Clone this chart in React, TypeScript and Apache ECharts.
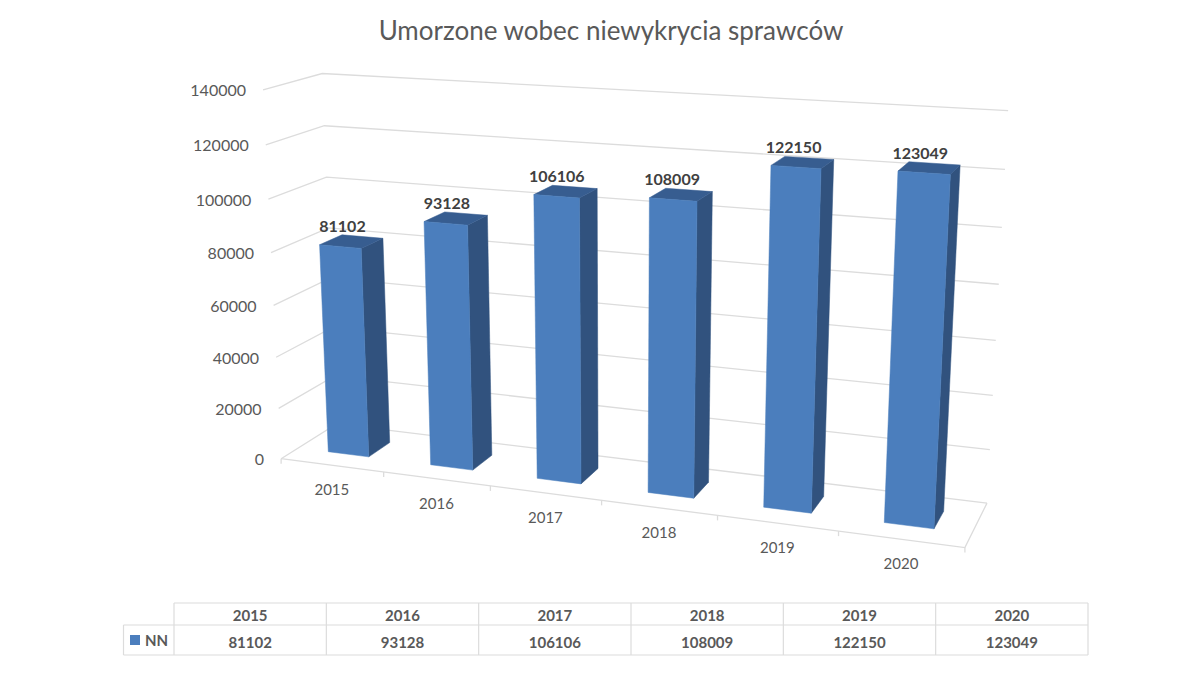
import React, { useEffect, useRef } from "react";
import * as echarts from "echarts";

const categories = ["2015", "2016", "2017", "2018", "2019", "2020"];
const values = [81102, 93128, 106106, 108009, 122150, 123049];
const yTicks = [0, 20000, 40000, 60000, 80000, 100000, 120000, 140000];
const titleText = "Umorzone wobec niewykrycia sprawców";
const seriesName = "NN";

const W = 1200;
const H = 675;
const FONT = "Lato, 'Open Sans', sans-serif";
const GRID = "#DCDCDC";
const TEXT = "#595959";

// Camera calibration: box coordinates (u along categories, v depth, w height) -> screen
const camera: number[][] = [
  [0, 0, 0, 282, 458],
  [0, 0, 1, 262, 90],
  [0, 1, 0, 335, 424],
  [0, 1, 1, 323, 74],
  [1, 1, 0, 987, 503],
  [1, 1, 1, 1008, 111],
  [1, 0, 0, 965, 547],
  [1 / 6, 0, 0, 385, 473],
  [2 / 6, 0, 0, 490, 486],
  [5 / 6, 0, 0, 838, 532],
  [0, 1, 5 / 7, 327, 177],
  [1, 1, 5 / 7, 1002, 227],
  [0, 0, 5 / 7, 268, 199],
  [0, 0, 4 / 7, 271, 252],
  [1, 1, 4 / 7, 999, 284],
];

function solveCamera(): number[] {
  const n = 11;
  const A: number[][] = Array.from({ length: n }, () => new Array(n + 1).fill(0));
  const add = (r: number[], t: number) => {
    for (let i = 0; i < n; i++) {
      for (let j = 0; j < n; j++) A[i][j] += r[i] * r[j];
      A[i][n] += r[i] * t;
    }
  };
  camera.forEach(([u, v, w, sx, sy]) => {
    const X = sx / 1000;
    const Y = sy / 1000;
    add([u, v, w, 1, 0, 0, 0, 0, -X * u, -X * v, -X * w], X);
    add([0, 0, 0, 0, u, v, w, 1, -Y * u, -Y * v, -Y * w], Y);
  });
  for (let c = 0; c < n; c++) {
    let p = c;
    for (let r = c + 1; r < n; r++) if (Math.abs(A[r][c]) > Math.abs(A[p][c])) p = r;
    [A[c], A[p]] = [A[p], A[c]];
    for (let r = 0; r < n; r++) {
      if (r === c) continue;
      const f = A[r][c] / A[c][c];
      for (let k = c; k <= n; k++) A[r][k] -= f * A[c][k];
    }
  }
  return A.map((row, i) => row[n] / row[i]);
}
const P = solveCamera();
function project(u: number, v: number, w: number): [number, number] {
  const d = P[8] * u + P[9] * v + P[10] * w + 1;
  return [
    ((P[0] * u + P[1] * v + P[2] * w + P[3]) / d) * 1000,
    ((P[4] * u + P[5] * v + P[6] * w + P[7]) / d) * 1000,
  ];
}

const BAR_HALF = 0.2 / 6;
const V_FRONT = 0.3;
const V_BACK = 0.7;

function wallItem(_: any, api: any) {
  const tick = api.value(0);
  const w = 1 - api.coord([0, tick])[1] / H;
  const a = project(0, 0, w);
  const b = project(0, 1, w);
  const c = project(1, 1, w);
  const lineStyle = { stroke: GRID, lineWidth: 1.3, fill: "none" };
  const children: any[] = [
    { type: "polyline", shape: { points: [a, b, c] }, style: lineStyle, silent: true },
    {
      type: "text",
      style: {
        x: a[0] - 17,
        y: a[1],
        text: String(tick),
        font: `16px ${FONT}`,
        fill: TEXT,
        align: "right",
        verticalAlign: "middle",
      },
      silent: true,
    },
  ];
  if (tick === 0) {
    const d = project(1, 0, 0);
    children.push({ type: "polyline", shape: { points: [a, d, c] }, style: lineStyle, silent: true });
    for (let i = 0; i <= 6; i++) {
      const t = project(i / 6, 0, 0);
      children.push({
        type: "line",
        shape: { x1: t[0], y1: t[1], x2: t[0], y2: t[1] + 5 },
        style: { stroke: GRID, lineWidth: 1.3 },
        silent: true,
      });
    }
  }
  return { type: "group", children };
}

function barItem(_: any, api: any) {
  const i = api.value(0);
  const pt = api.coord([i, api.value(1)]);
  const uc = pt[0] / W;
  const w = 1 - pt[1] / H;
  const u0 = uc - BAR_HALF;
  const u1 = uc + BAR_HALF;
  const face = (pts: [number, number][], fill: string) => ({
    type: "polygon",
    shape: { points: pts },
    style: { fill, stroke: fill, lineWidth: 0.5 },
    silent: true,
  });
  const top = project(uc, 0.5, w);
  return {
    type: "group",
    children: [
      face([project(u1, V_FRONT, 0), project(u1, V_BACK, 0), project(u1, V_BACK, w), project(u1, V_FRONT, w)], "#31527E"),
      face([project(u0, V_FRONT, w), project(u1, V_FRONT, w), project(u1, V_BACK, w), project(u0, V_BACK, w)], "#375D90"),
      face([project(u0, V_FRONT, 0), project(u1, V_FRONT, 0), project(u1, V_FRONT, w), project(u0, V_FRONT, w)], "#4B7EBD"),
      {
        type: "text",
        style: {
          x: top[0] - 9,
          y: top[1] - 16,
          text: String(api.value(1)),
          font: `bold 16px ${FONT}`,
          fill: "#404040",
          align: "center",
          verticalAlign: "middle",
        },
        silent: true,
      },
    ],
  };
}

function categoryItem(_: any, api: any) {
  const i = api.value(0);
  const uc = api.coord([i, 0])[0] / W;
  const p = project(uc, 0, 0);
  return {
    type: "text",
    style: {
      x: p[0],
      y: p[1] + 24,
      text: categories[i],
      font: `15px ${FONT}`,
      fill: TEXT,
      align: "center",
      verticalAlign: "middle",
    },
    silent: true,
  };
}

function tableGraphics(): any[] {
  const x0 = 174;
  const cw = (1088 - 174) / 6;
  const yTop = 603;
  const yMid = 625;
  const yBot = 655;
  const xLeft = 123.5;
  const line = (x1: number, y1: number, x2: number, y2: number) => ({
    type: "line",
    shape: { x1, y1, x2, y2 },
    style: { stroke: GRID, lineWidth: 1.2 },
    silent: true,
  });
  const text = (x: number, y: number, t: string, align = "center") => ({
    type: "text",
    x,
    y,
    style: {
      text: t,
      font: `bold 15px ${FONT}`,
      fill: TEXT,
      align,
      verticalAlign: "middle",
    },
    silent: true,
  });
  const out: any[] = [
    line(x0, yTop, x0 + 6 * cw, yTop),
    line(xLeft, yMid, x0 + 6 * cw, yMid),
    line(xLeft, yBot, x0 + 6 * cw, yBot),
    line(xLeft, yMid, xLeft, yBot),
    {
      type: "rect",
      shape: { x: 130, y: 635, width: 10, height: 10 },
      style: { fill: "#4B7EBD" },
      silent: true,
    },
    text(145, 640, seriesName, "left"),
  ];
  for (let i = 0; i <= 6; i++) out.push(line(x0 + i * cw, yTop, x0 + i * cw, yBot));
  categories.forEach((c, i) => {
    out.push(text(x0 + (i + 0.5) * cw, 615, c));
    out.push(text(x0 + (i + 0.5) * cw, 642, String(values[i])));
  });
  return out;
}

export default function App() {
  const ref = useRef<HTMLDivElement>(null);
  useEffect(() => {
    document.body.style.margin = "0";
    const chart = echarts.init(ref.current!, null, { renderer: "svg" });
    chart.setOption({
      animation: false,
      backgroundColor: "#fff",
      tooltip: { show: false },
      title: {
        text: titleText,
        left: 606,
        top: 12,
        textAlign: "center",
        textStyle: { fontFamily: FONT, fontSize: 26, fontWeight: "normal", color: TEXT },
      },
      grid: { left: 0, right: 0, top: 0, bottom: 0 },
      xAxis: { type: "category", data: categories, show: false },
      yAxis: { type: "value", min: 0, max: 140000, interval: 20000, show: false },
      graphic: tableGraphics(),
      series: [
        {
          type: "custom",
          clip: false,
          renderItem: wallItem,
          encode: { x: -1, y: 0 },
          data: yTicks.map((t) => [t]),
          silent: true,
        },
        {
          type: "custom",
          clip: false,
          renderItem: categoryItem,
          data: categories.map((_, i) => [i]),
          silent: true,
        },
        {
          type: "custom",
          name: seriesName,
          clip: false,
          renderItem: barItem,
          data: values.map((v, i) => [i, v]),
          silent: true,
        },
      ],
    });
    return () => chart.dispose();
  }, []);
  return <div ref={ref} style={{ width: W, height: H }} />;
}
